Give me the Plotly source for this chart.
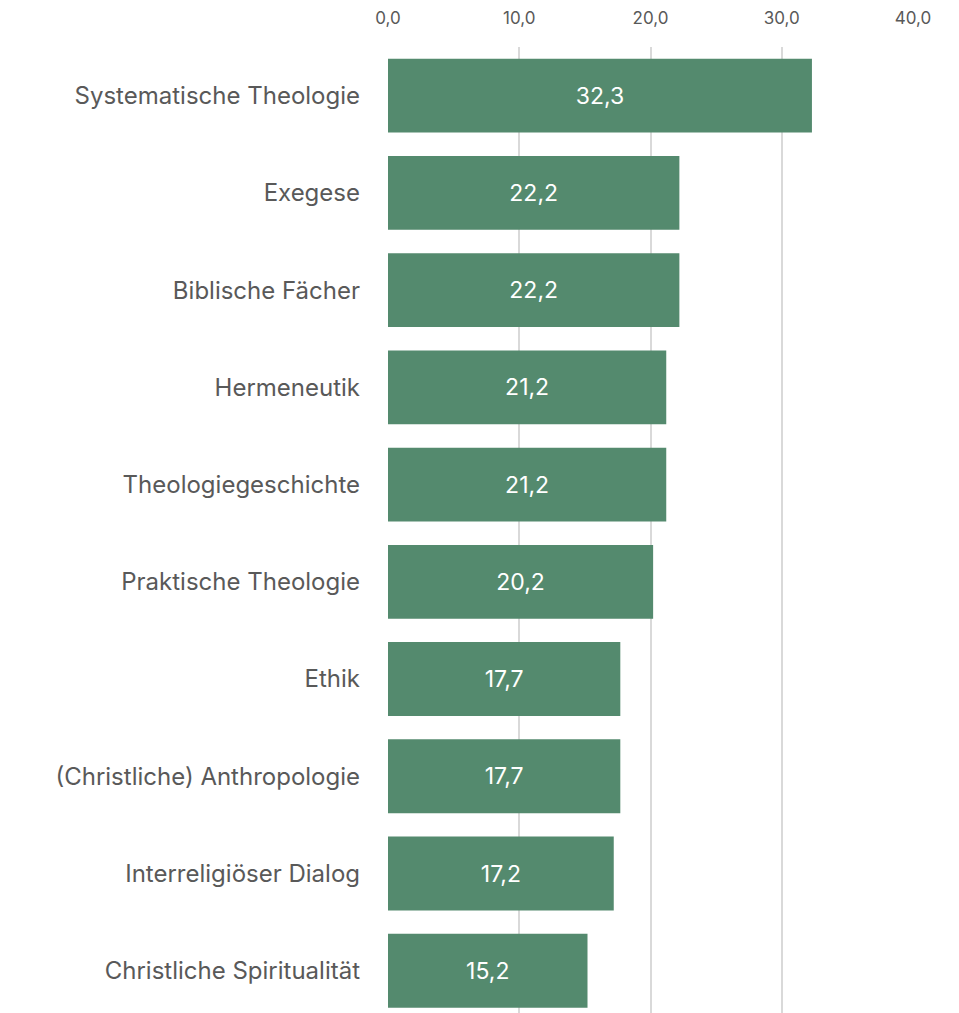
import plotly.graph_objects as go

categories = ["Systematische Theologie", "Exegese", "Biblische Fächer", "Hermeneutik",
              "Theologiegeschichte", "Praktische Theologie", "Ethik",
              "(Christliche) Anthropologie", "Interreligiöser Dialog", "Christliche Spiritualität"]
values = [32.3, 22.2, 22.2, 21.2, 21.2, 20.2, 17.7, 17.7, 17.2, 15.2]
tick_vals = [0, 10, 20, 30, 40]
tick_text = ["0,0", "10,0", "20,0", "30,0", "40,0"]

labels = [f"{v:.1f}".replace(".", ",") for v in values]

FONT = "Inter"

fig = go.Figure(go.Bar(
    y=categories, x=values, orientation="h",
    marker=dict(color="#548a6e", line=dict(width=0)),
    text=labels, textposition="inside", insidetextanchor="middle",
    textfont=dict(color="white", size=23, family=FONT),
    width=0.76, hoverinfo="skip",
))

fig.update_layout(
    width=959, height=1013,
    margin=dict(l=380, r=54, t=39, b=8, autoexpand=False),
    plot_bgcolor="white", paper_bgcolor="white",
    font=dict(family=FONT, color="#595959"),
    showlegend=False,
    xaxis=dict(side="top", range=[0, 40], tickvals=tick_vals, ticktext=tick_text,
               showgrid=True, gridcolor="#d9d9d9", gridwidth=2, zeroline=False,
               showline=False, tickfont=dict(size=17, color="#595959", family=FONT), ticks="",
               ticklabelstandoff=19, automargin=False),
    yaxis=dict(type="category", categoryorder="array", categoryarray=categories,
               range=[9.434, -0.5], showgrid=False, zeroline=False, showline=False,
               tickfont=dict(size=24, color="#595959", family=FONT), ticks="",
               ticklabelstandoff=27, automargin=False),
)

fig.write_html("out.html")
